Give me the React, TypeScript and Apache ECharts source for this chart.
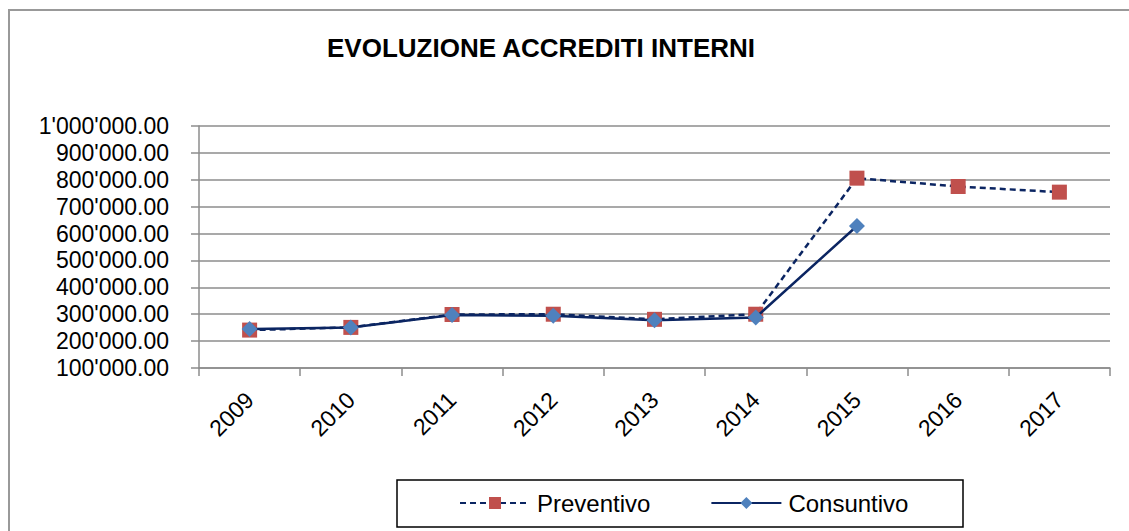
import React, { useEffect, useRef } from "react";
import * as echarts from "echarts";

const years = ["2009", "2010", "2011", "2012", "2013", "2014", "2015", "2016", "2017"];
const preventivo = [241000, 251000, 299000, 300000, 281000, 300000, 806000, 775000, 754000];
const consuntivo = [245000, 251000, 297000, 294000, 278000, 288000, 628000, null, null];
const titleText = "EVOLUZIONE ACCREDITI INTERNI";

function fmt(v: number): string {
  const s = Math.round(v).toString().replace(/\B(?=(\d{3})+(?!\d))/g, "'");
  return s + ".00";
}

export default function App() {
  const ref = useRef<HTMLDivElement>(null);
  useEffect(() => {
    document.body.style.margin = "0";
    const chart = echarts.init(ref.current!, null, { renderer: "svg" });
    const font = "'Liberation Sans', Arial, sans-serif";
    const navy = "#0B2562";
    const grey = "#8c8c8c";
    chart.setOption({
      animation: false,
      backgroundColor: "#ffffff",
      textStyle: { fontFamily: font },
      title: {
        text: titleText,
        left: 327,
        top: 35,
        padding: 0,
        textStyle: { fontFamily: font, fontSize: 26, fontWeight: "bold", color: "#000" },
      },
      graphic: [
        {
          type: "rect",
          shape: { x: 9, y: 10, width: 1200, height: 600 },
          style: { fill: "none", stroke: "#999", lineWidth: 2 },
          silent: true,
        },
        {
          type: "rect",
          shape: { x: 397, y: 480, width: 566, height: 47 },
          style: { fill: "none", stroke: "#000", lineWidth: 1.5 },
          silent: true,
        },
      ],
      legend: {
        left: 459,
        top: 491,
        padding: 0,
        itemWidth: 70,
        itemHeight: 15,
        itemGap: 60,
        textStyle: { fontFamily: font, fontSize: 24, color: "#000", padding: [0, 0, 0, 2] },
        data: ["Preventivo", "Consuntivo"],
      },
      grid: { left: 199, right: 19, top: 126, bottom: 163, containLabel: false },
      xAxis: {
        type: "category",
        data: years,
        boundaryGap: true,
        axisLine: { lineStyle: { color: grey, width: 1.5 } },
        axisTick: { show: true, length: 8, alignWithLabel: false, lineStyle: { color: grey, width: 1.5 } },
        axisLabel: {
          rotate: 45,
          margin: 28,
          fontSize: 23,
          fontFamily: font,
          color: "#000",
          interval: 0,
        },
        splitLine: { show: false },
      },
      yAxis: {
        type: "value",
        min: 100000,
        max: 1000000,
        interval: 100000,
        axisLine: { show: true, lineStyle: { color: grey, width: 1.5 } },
        axisTick: { show: true, length: 8, lineStyle: { color: grey, width: 1.5 } },
        axisLabel: {
          margin: 30,
          fontSize: 23,
          fontFamily: font,
          color: "#000",
          formatter: (v: number) => fmt(v),
        },
        splitLine: { show: true, lineStyle: { color: grey, width: 1.5 } },
      },
      series: [
        {
          name: "Preventivo",
          type: "line",
          data: preventivo,
          symbol: "rect",
          symbolSize: 15,
          itemStyle: { color: "#C0504D" },
          lineStyle: { color: navy, width: 2.5, type: [6, 4] },
          z: 2,
        },
        {
          name: "Consuntivo",
          type: "line",
          data: consuntivo,
          symbol: "diamond",
          symbolSize: 16,
          itemStyle: { color: "#4F81BD" },
          lineStyle: { color: navy, width: 2.5, type: "solid" },
          connectNulls: false,
          z: 3,
        },
      ],
    });
    return () => chart.dispose();
  }, []);
  return <div ref={ref} style={{ width: 1129, height: 531 }} />;
}
